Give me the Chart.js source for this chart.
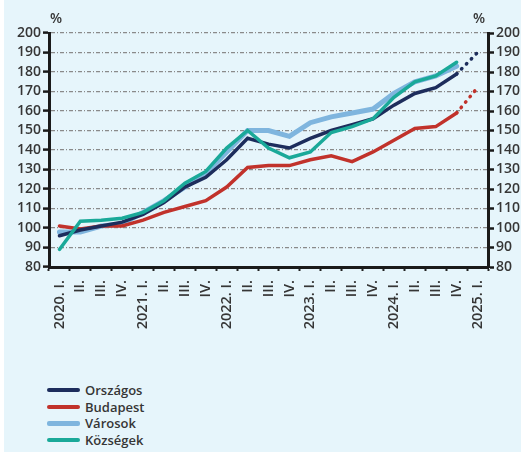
<!DOCTYPE html>
<html>
<head>
<meta charset="utf-8">
<script src="https://cdn.jsdelivr.net/npm/chart.js@4.4.1/dist/chart.umd.min.js"></script>
<style>
    html, body { margin: 0; padding: 0; background: #ffffff; overflow: hidden; }
    #wrap { position: absolute; left: 4px; top: 0; width: 517px; height: 452px; background: #e6f5fb; }
    #chart { position: absolute; left: 0; top: 0; }
    #legend { position: absolute; left: 47px; top: 382px; font-family: 'Open Sans', sans-serif; font-size: 13px; font-weight: 600; color: #363636; }
    .item { display: flex; align-items: center; height: 16.5px; }
    .swatch { width: 33px; margin-right: 5px; border-radius: 2px; }
</style>
</head>
<body>
<div id="wrap"></div>
<canvas id="chart" width="545" height="352"></canvas>
<div id="legend"></div>
<script>
// ===== DATA =====
const quarters = ['2020. I.', 'II.', 'III.', 'IV.',
    '2021. I.', 'II.', 'III.', 'IV.',
    '2022. I.', 'II.', 'III.', 'IV.',
    '2023. I.', 'II.', 'III.', 'IV.',
    '2024. I.', 'II.', 'III.', 'IV.',
    '2025. I.'];

const orszagos = [96, 99, 101, 103, 107, 113, 121, 126, 135, 146, 143, 141, 146, 150, 153, 156, 163, 169, 172, 179, 190];
const budapest = [101, 99.5, 101, 101, 104, 108, 111, 114, 121, 131, 132, 132, 135, 137, 134, 139, 145, 151, 152, 159, 172];
const varosok = [98, 98, 101, 102, 108, 114, 121, 128, 139, 150, 150, 147, 154, 157, 159, 161, 169, 175, 178, 183, null];
const kozsegek = [89, 103.5, 104, 105, 108, 114, 123, 129, 141, 150, 141, 136, 139, 149, 152, 156, 167, 175, 178, 185, null];

const yMin = 80;
const yMax = 200;
const yStep = 10;

// last segment (2024 IV -> 2025 I) is a forecast, drawn dotted
const forecastFrom = 19;

const tickFont = { family: "'Open Sans', sans-serif", size: 14, weight: '600' };
const tickColor = '#363636';

function makeSeries(label, data, color, width, order) {
    return {
        label: label,
        data: data,
        borderColor: color,
        backgroundColor: color,
        borderWidth: width,
        pointRadius: 0,
        tension: 0,
        order: order,
        borderCapStyle: 'round',
        spanGaps: false,
        segment: {
            borderDash: ctx => ctx.p0DataIndex >= forecastFrom ? [0.5, 6.5] : undefined
        }
    };
}

const percentLabels = {
    id: 'percentLabels',
    afterDraw(chart) {
        const ctx = chart.ctx;
        ctx.save();
        ctx.font = "600 14px 'Open Sans', sans-serif";
        ctx.fillStyle = tickColor;
        ctx.textAlign = 'center';
        ctx.textBaseline = 'middle';
        ctx.fillText('%', chart.scales.y.right + 7, 19);
        ctx.fillText('%', chart.scales.y2.left - 9, 19);
        ctx.restore();
    }
};

const datasets = [
    makeSeries('Országos', orszagos, '#1d2d5c', 3.5, 2),
    makeSeries('Budapest', budapest, '#c1322b', 3.5, 3),
    makeSeries('Városok', varosok, '#7fb5de', 5, 4),
    makeSeries('Községek', kozsegek, '#1aa999', 3.5, 1)
];

const chart = new Chart(document.getElementById('chart'), {
    type: 'line',
    data: { labels: quarters, datasets: datasets },
    plugins: [percentLabels],
    options: {
        responsive: false,
        animation: false,
        layout: { padding: { top: 33, left: 0, right: 0, bottom: 0 } },
        plugins: {
            legend: { display: false },
            tooltip: { enabled: false }
        },
        scales: {
            x: {
                offset: true,
                afterFit: scale => { scale.height = 85; },
                grid: {
                    offset: true,
                    drawOnChartArea: false,
                    tickLength: 4,
                    tickColor: '#222',
                    tickWidth: 2
                },
                border: { color: '#1a1a1a', width: 3 },
                ticks: {
                    autoSkip: false,
                    minRotation: 90,
                    maxRotation: 90,
                    padding: 9,
                    color: tickColor,
                    font: { family: "'Open Sans', sans-serif", size: 14.5, weight: '600' }
                }
            },
            y: {
                position: 'left',
                min: yMin,
                max: yMax,
                afterFit: scale => { scale.width = 49; },
                ticks: { stepSize: yStep, autoSkip: false, color: tickColor, font: tickFont, padding: 2 },
                grid: {
                    color: ctx => ctx.tick.value === yMin ? 'rgba(0,0,0,0)' : '#8a8a8a',
                    lineWidth: 1.2,
                    tickLength: 6,
                    tickColor: '#1a1a1a',
                    tickWidth: 2.5
                },
                border: { color: '#1a1a1a', width: 3, dash: [4, 2, 1, 2] }
            },
            y2: {
                position: 'right',
                min: yMin,
                max: yMax,
                afterFit: scale => { scale.width = 57; },
                ticks: { stepSize: yStep, autoSkip: false, color: tickColor, font: tickFont, padding: 2 },
                grid: {
                    drawOnChartArea: false,
                    tickLength: 6,
                    tickColor: '#1a1a1a',
                    tickWidth: 2.5
                },
                border: { color: '#1a1a1a', width: 3 }
            }
        }
    }
});

// ===== LEGEND =====
function buildLegend() {
    const box = document.getElementById('legend');
    chart.data.datasets.forEach(ds => {
        const row = document.createElement('div');
        row.className = 'item';
        const sw = document.createElement('span');
        sw.className = 'swatch';
        sw.style.background = ds.borderColor;
        sw.style.height = (ds.borderWidth > 4 ? 5 : 4) + 'px';
        const txt = document.createElement('span');
        txt.textContent = ds.label;
        row.appendChild(sw);
        row.appendChild(txt);
        box.appendChild(row);
    });
}

buildLegend();
</script>
</body>
</html>
